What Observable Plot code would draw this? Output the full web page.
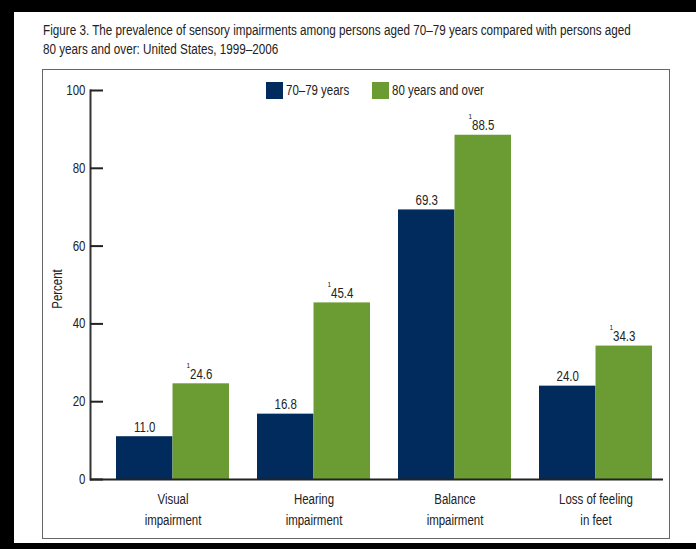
<!DOCTYPE html>
<html><head><meta charset="utf-8">
<script src="https://cdn.jsdelivr.net/npm/d3@7"></script>
<script src="https://cdn.jsdelivr.net/npm/@observablehq/plot@0.6"></script>
<style>
html,body{margin:0;padding:0;background:#000;}
#page{position:relative;width:696px;height:549px;background:#000;overflow:hidden;font-family:"Liberation Sans",Arial,sans-serif;color:#222;}
#white{position:absolute;left:14px;top:12px;width:682px;height:531px;background:#fff;}
#title{position:absolute;left:43px;top:21px;font-size:14px;line-height:19px;white-space:nowrap;transform:scale(0.835,1);transform-origin:0 0;}
#box{position:absolute;left:42px;top:69px;width:626px;height:468px;border:1.5px solid #666;}
#chart{position:absolute;left:0;top:0;}
.sw{position:absolute;width:17px;height:17px;}
.lt{position:absolute;font-size:14px;line-height:17px;white-space:nowrap;transform:scale(0.82,1);transform-origin:0 0;}
</style></head>
<body>
<div id="page">
  <div id="white"></div>
  <div id="title">Figure 3. The prevalence of sensory impairments among persons aged 70–79 years compared with persons aged<br>80 years and over: United States, 1999–2006</div>
  <div id="box"></div>
  <div id="chart"></div>
  <div id="legend"></div>
</div>
<script>
const categories = ["Visual impairment", "Hearing impairment", "Balance impairment", "Loss of feeling in feet"];
const categoryLabels = ["Visual\nimpairment", "Hearing\nimpairment", "Balance\nimpairment", "Loss of feeling\nin feet"];
const seriesNames = ["70–79 years", "80 years and over"];
const values7079 = [11.0, 16.8, 69.3, 24.0];
const values80plus = [24.6, 45.4, 88.5, 34.3];
const footnotes80plus = ["1", "1", "1", "1"];
const yTicks = [0, 20, 40, 60, 80, 100];
const yLabel = "Percent";
const colors = ["#012b5c", "#6b9c34"];

const rowsA = categories.map((c, i) => ({category: c, series: seriesNames[0], value: values7079[i]}));
const rowsB = categories.map((c, i) => ({category: c, series: seriesNames[1], value: values80plus[i], note: footnotes80plus[i]}));

const W = 696, H = 549, mL = 90, mR = 33, mT = 90, mB = 70;
const pi = 0.2, po = 0.1275;
const step = (W - mL - mR) / (categories.length - pi + 2 * po);
const bw = step * (1 - pi);
const half = bw / 2;
const font = '"Liberation Sans",Arial,sans-serif';

const chart = Plot.plot({
  width: W, height: H,
  marginLeft: mL, marginRight: mR, marginTop: mT, marginBottom: mB,
  style: {background: "transparent", fontFamily: font, fontSize: "14px", color: "#222"},
  x: {type: "band", domain: categories, paddingInner: pi, paddingOuter: po, align: 0.69, axis: null},
  y: {domain: [0, 100], axis: null},
  marks: [
    Plot.barY(rowsA, {x: "category", y: "value", fill: colors[0], insetRight: half}),
    Plot.barY(rowsB, {x: "category", y: "value", fill: colors[1], insetLeft: half}),
    Plot.ruleY([0], {stroke: "#222", strokeWidth: 2}),
    Plot.frame({anchor: "left", stroke: "#333", strokeWidth: 2}),
    Plot.axisY({ticks: yTicks, tickSize: -13, tickPadding: 18, strokeWidth: 2, fontSize: 14, label: null}),
    Plot.text([yLabel], {frameAnchor: "left", textAnchor: "middle", text: d => d, rotate: -90, dx: -33, dy: 4, fontSize: 14}),
    Plot.axisX({tickSize: 0, tickPadding: 10, label: null, fontSize: 14, lineHeight: 1.5,
      tickFormat: d => categoryLabels[categories.indexOf(d)]}),
    Plot.text(rowsA, {x: "category", y: "value", text: d => d.value.toFixed(1), dx: -half / 2, dy: -5, lineAnchor: "bottom", fontSize: 14}),
    Plot.text(rowsB, {x: "category", y: "value", text: d => d.value.toFixed(1), dx: half / 2, dy: -5, lineAnchor: "bottom", fontSize: 14}),
    Plot.text(rowsB, {x: "category", y: "value", text: "note", dx: half / 2 - 11, dy: -16, lineAnchor: "bottom", textAnchor: "end", fontSize: 8})
  ]
});
// condense all chart texts horizontally (narrow typeface look)
chart.querySelectorAll("text").forEach(t => {
  let tr = t.getAttribute("transform") || "";
  const x = t.getAttribute("x");
  if (x != null && !isNaN(+x)) {
    tr = `${tr} translate(${x},0)`;
    t.removeAttribute("x");
  }
  t.setAttribute("transform", `${tr} scale(0.82,1)`);
});
document.getElementById("chart").appendChild(chart);

const legend = document.getElementById("legend");
const legendX = [266, 372];
seriesNames.forEach((s, i) => {
  const sw = document.createElement("div");
  sw.className = "sw";
  sw.style.left = legendX[i] + "px";
  sw.style.top = "82px";
  sw.style.background = colors[i];
  const t = document.createElement("div");
  t.className = "lt";
  t.style.left = (legendX[i] + 20) + "px";
  t.style.top = "82px";
  t.textContent = s;
  legend.appendChild(sw); legend.appendChild(t);
});
</script>
</body></html>
